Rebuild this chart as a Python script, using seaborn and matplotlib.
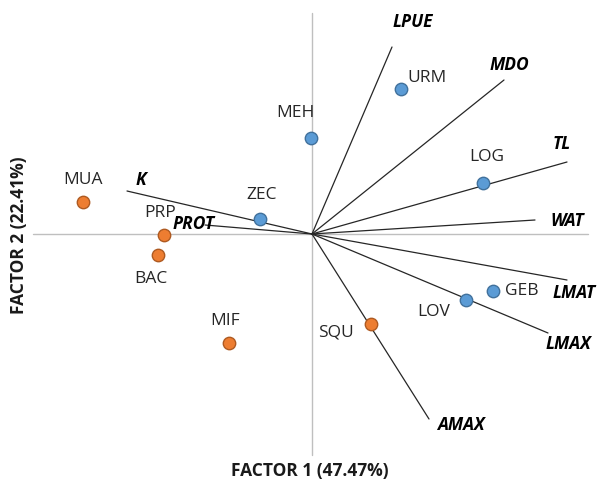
import matplotlib
matplotlib.use("Agg")
import matplotlib.pyplot as plt
import seaborn as sns
import pandas as pd
import numpy as np

# ---- data (factor scores) ----
site_names = ["MEH", "MUA", "ZEC", "PRP", "BAC", "MIF", "URM", "LOG", "GEB", "LOV", "SQU"]
site_f1 = [-0.01, -2.29, -0.52, -1.48, -1.54, -0.83, 0.89, 1.71, 1.81, 1.54, 0.59]
site_f2 = [0.96, 0.32, 0.15, -0.01, -0.21, -1.09, 1.45, 0.51, -0.57, -0.66, -0.90]
site_group = ["blue", "orange", "blue", "orange", "orange", "orange",
              "blue", "blue", "blue", "blue", "orange"]

var_names = ["K", "PROT", "LPUE", "MDO", "TL", "WAT", "LMAT", "LMAX", "AMAX"]
var_f1 = [-1.85, -1.07, 0.80, 1.92, 2.55, 2.23, 2.55, 2.36, 1.17]
var_f2 = [0.43, 0.09, 1.87, 1.54, 0.72, 0.14, -0.46, -0.99, -1.85]

x_title = "FACTOR 1 (47.47%)"
y_title = "FACTOR 2 (22.41%)"

# ---- styling ----
sns.set_theme(style="white")
plt.rcParams["font.family"] = ["Open Sans", "DejaVu Sans"]

XL, XR, YB, YT = -3.12, 2.88, -2.49, 2.34
fig = plt.figure(figsize=(6.0, 4.83), dpi=100)
ax = fig.add_axes([0, 0, 1, 1])
ax.set_xlim(XL, XR)
ax.set_ylim(YB, YT)

# axis cross lines
ax.axhline(0, xmin=(-2.79 - XL) / (XR - XL), xmax=(2.76 - XL) / (XR - XL),
           color="#bfbfbf", lw=1.0, zorder=1)
ax.axvline(0, ymin=(-2.21 - YB) / (YT - YB), ymax=(2.21 - YB) / (YT - YB),
           color="#bfbfbf", lw=1.0, zorder=1)

# variable vectors
for name, vx, vy in zip(var_names, var_f1, var_f2):
    ax.plot([0, vx], [0, vy], color="#262626", lw=0.9, zorder=2)

# variable label offsets (points)
var_off = {
    "K": (6, 8, "left"), "PROT": (-8, 1, "center"), "LPUE": (15, 18, "center"),
    "MDO": (4, 11, "center"), "TL": (-4, 13, "center"), "WAT": (23, -1, "center"),
    "LMAT": (5, -9, "center"), "LMAX": (15, -8, "center"), "AMAX": (23, -4, "center"),
}
for name, vx, vy in zip(var_names, var_f1, var_f2):
    dx, dy, ha = var_off[name]
    ax.annotate(name, (vx, vy), xytext=(dx, dy), textcoords="offset points",
                ha=ha, va="center", fontsize=12.5, fontweight="bold", fontstyle="italic",
                color="black", zorder=5)

# site scores
df = pd.DataFrame({"F1": site_f1, "F2": site_f2, "group": site_group, "name": site_names})
palette = {"blue": "#5B9BD5", "orange": "#ED7D31"}
edges = {"blue": "#41719C", "orange": "#AE5A21"}
for g in ["blue", "orange"]:
    sub = df[df["group"] == g]
    sns.scatterplot(data=sub, x="F1", y="F2", color=palette[g], edgecolor=edges[g],
                    linewidth=1.0, s=80, ax=ax, zorder=4, legend=False)
ax.set_xlim(XL, XR)
ax.set_ylim(YB, YT)
ax.set_axis_off()

site_off = {
    "MEH": (-11, 18), "MUA": (0, 16), "ZEC": (1, 17), "PRP": (-3, 16), "BAC": (-5, -17),
    "MIF": (-3, 16), "URM": (19, 8), "LOG": (3, 19), "GEB": (21, 0), "LOV": (-23, -9),
    "SQU": (-25, -6),
}
for n, x, y in zip(site_names, site_f1, site_f2):
    dx, dy = site_off[n]
    ax.annotate(n, (x, y), xytext=(dx, dy), textcoords="offset points",
                ha="center", va="center", fontsize=12.5, color="#262626", zorder=5)

fig.text(310 / 600, 1 - 471 / 483, x_title, ha="center", va="center",
         fontsize=12.5, fontweight="bold", color="#1a1a1a")
fig.text(19 / 600, 1 - 235 / 483, y_title, ha="center", va="center", rotation=90,
         fontsize=12.5, fontweight="bold", color="#1a1a1a")

fig.savefig("out.png", dpi=100, facecolor="white")
